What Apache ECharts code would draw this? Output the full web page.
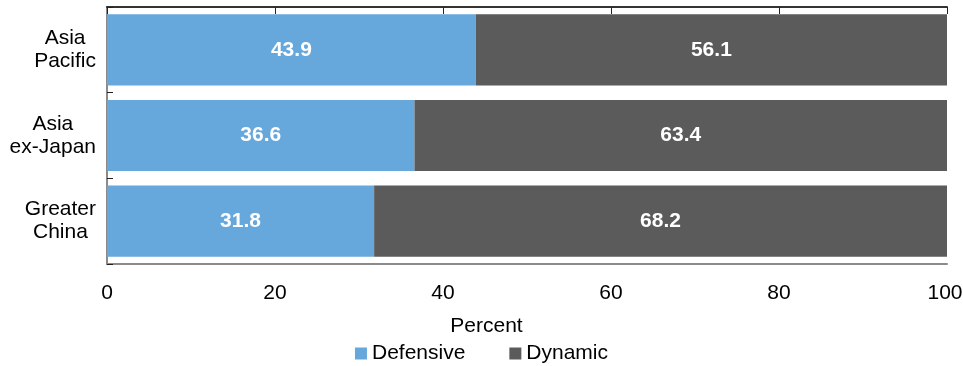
<!DOCTYPE html>
<html>
<head>
<meta charset="utf-8">
<script src="https://cdn.jsdelivr.net/npm/echarts@6/dist/echarts.min.js"></script>
<style>
  html, body { margin: 0; padding: 0; background: #ffffff; }
  #chart { width: 963px; height: 366px; }
</style>
</head>
<body>
<div id="chart"></div>
<script>
// Regions, listed top to bottom
const categories = ['Asia\nPacific', 'Asia\nex-Japan', 'Greater\nChina'];
// Share of each style, percent
const defensive = [43.9, 36.6, 31.8];
const dynamic = [56.1, 63.4, 68.2];
const xTicks = [0, 20, 40, 60, 80, 100];

const FONT = 'Liberation Sans, Arial, sans-serif';
const FS = 21;
const chart = echarts.init(document.getElementById('chart'), null, { renderer: 'canvas' });

const valueLabel = {
  show: true,
  position: 'inside',
  color: '#ffffff',
  fontFamily: FONT,
  fontSize: FS,
  fontWeight: 'bold',
  formatter: p => p.value.toFixed(1)
};

const tickText = { fontFamily: FONT, fontSize: FS, color: '#000000' };

chart.setOption({
  animation: false,
  backgroundColor: '#ffffff',
  grid: { left: 107, right: 16, top: 7, bottom: 102, containLabel: false, outerBoundsMode: 'none' },
  legend: {
    top: 338,
    left: 'center',
    itemWidth: 12,
    itemHeight: 12,
    itemGap: 44,
    icon: 'rect',
    textStyle: { fontFamily: FONT, fontSize: FS, color: '#000000' },
    data: ['Defensive', 'Dynamic']
  },
  xAxis: [
    {
      type: 'value',
      position: 'bottom',
      min: xTicks[0],
      max: xTicks[xTicks.length - 1],
      interval: 20,
      name: 'Percent',
      nameLocation: 'middle',
      nameGap: 52,
      nameTextStyle: { fontFamily: FONT, fontSize: FS, color: '#000000', padding: [0, 81, 0, 0] },
      axisLine: { show: true, lineStyle: { color: '#8a8a8a', width: 2 } },
      axisTick: { show: false },
      splitLine: { show: false },
      axisLabel: {
        margin: 19,
        // the last label is nudged in so it stays inside the canvas
        formatter: v => (v === xTicks[xTicks.length - 1] ? '{e|' + v + '}' : '{t|' + v + '}'),
        rich: {
          t: tickText,
          e: Object.assign({ padding: [0, 4, 0, 0] }, tickText)
        }
      }
    },
    {
      type: 'value',
      position: 'top',
      min: xTicks[0],
      max: xTicks[xTicks.length - 1],
      interval: 20,
      axisLine: { show: true, lineStyle: { color: '#333333', width: 2 } },
      axisTick: { show: true, inside: true, length: 7, lineStyle: { color: '#222222', width: 1 } },
      splitLine: { show: false },
      axisLabel: { show: false }
    }
  ],
  yAxis: [
    {
      type: 'category',
      data: categories,
      inverse: true,
      position: 'left',
      axisLine: { show: true, lineStyle: { color: '#333333', width: 2 } },
      axisTick: { show: true, inside: true, length: 6, lineStyle: { color: '#222222', width: 1 } },
      axisLabel: {
        align: 'right',
        margin: 11,
        // lines are centred on each other, block sits right-aligned at the axis
        formatter: v => v.split('\n').map(s => '{c|' + s + '}').join('\n'),
        rich: {
          c: { fontFamily: FONT, fontSize: FS, color: '#000000', align: 'center', lineHeight: 23 }
        }
      }
    },
    {
      type: 'category',
      data: categories,
      inverse: true,
      position: 'right',
      axisLine: { show: true, lineStyle: { color: '#8a8a8a', width: 2 } },
      axisTick: { show: false },
      axisLabel: { show: false }
    }
  ],
  series: [
    {
      name: 'Defensive',
      type: 'bar',
      stack: 'share',
      barWidth: '83%',
      itemStyle: { color: '#66a8dc' },
      label: valueLabel,
      data: defensive
    },
    {
      name: 'Dynamic',
      type: 'bar',
      stack: 'share',
      barWidth: '83%',
      itemStyle: { color: '#5b5b5b' },
      label: valueLabel,
      data: dynamic
    }
  ]
});
</script>
</body>
</html>
